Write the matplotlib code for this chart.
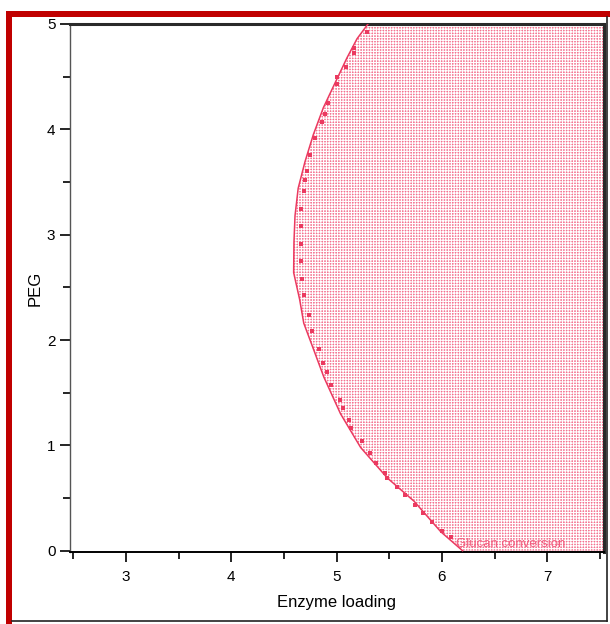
import matplotlib
matplotlib.use("Agg")
import matplotlib.pyplot as plt
from matplotlib.patches import Rectangle
from matplotlib.lines import Line2D

plt.rcParams["font.family"] = ["Liberation Sans", "DejaVu Sans"]
plt.rcParams["hatch.linewidth"] = 0.8

# boundary of the feasible region (Glucan conversion constraint), bottom to top
peg_edge = [0.0, 0.18, 0.47, 0.69, 0.98, 1.30, 1.65, 1.906, 2.16, 2.385,
            2.64, 2.93, 3.18, 3.44, 3.69, 3.95, 4.205, 4.44, 4.68, 4.86, 5.0]
enzyme_edge = [6.197, 5.99, 5.736, 5.483, 5.229, 5.038, 4.879, 4.784, 4.689, 4.650,
               4.593, 4.596, 4.606, 4.636, 4.700, 4.780, 4.875, 4.986, 5.100, 5.195, 5.299]

# dotted contour points just inside the boundary
dot_enzyme = [6.086, 6.006, 5.911, 5.822, 5.743, 5.650, 5.571, 5.483, 5.457, 5.378,
              5.317, 5.238, 5.133, 5.117, 5.060, 5.029, 4.949, 4.905, 4.873, 4.832,
              4.768, 4.736, 4.689, 4.673, 4.663, 4.663, 4.663, 4.663, 4.695, 4.705,
              4.721, 4.752, 4.800, 4.864, 4.895, 4.921, 5.000, 5.000, 5.092, 5.165,
              5.165, 5.286]
dot_peg = [0.134, 0.189, 0.268, 0.357, 0.438, 0.527, 0.603, 0.693, 0.740, 0.830,
           0.926, 1.044, 1.162, 1.245, 1.353, 1.434, 1.577, 1.698, 1.779, 1.916,
           2.081, 2.235, 2.423, 2.577, 2.746, 2.912, 3.081, 3.247, 3.413, 3.515,
           3.608, 3.752, 3.918, 4.071, 4.147, 4.246, 4.428, 4.492, 4.588, 4.725,
           4.773, 4.923]

XLIM = (2.47, 7.535)
YLIM = (-0.012, 5.0)
LINE = "#eb3a60"

fig = plt.figure(figsize=(6.10, 6.24), dpi=100)
ax = fig.add_axes([0.1148, 0.1154, 0.8746, 0.8462])

ax.fill_betweenx(peg_edge, enzyme_edge, XLIM[1], facecolor="#f47390",
                 edgecolor="white", hatch="++++++", linewidth=0, zorder=1)
ax.plot(enzyme_edge, peg_edge, color=LINE, lw=1.1, zorder=3)
ax.plot(dot_enzyme, dot_peg, ls="none", marker="s", ms=2.6, color=LINE,
        mew=0, zorder=3)
ax.text(6.13, 0.01, "Glucan conversion", color="#f25c7e", fontsize=9.5,
        ha="left", va="bottom", zorder=4)

ax.set_xlim(*XLIM)
ax.set_ylim(*YLIM)
ax.set_xticks([3, 4, 5, 6, 7])
ax.set_xticks([2.5, 3.5, 4.5, 5.5, 6.5, 7.5], minor=True)
ax.set_yticks([0, 1, 2, 3, 4, 5])
ax.set_yticks([0.5, 1.5, 2.5, 3.5, 4.5], minor=True)
ax.tick_params(axis="both", which="major", direction="out", labelsize=11,
               width=1.2, length=7)
ax.tick_params(axis="both", which="minor", direction="out", width=1.2, length=5)
ax.tick_params(axis="x", pad=6)

ax.spines["left"].set_color("#555555")
ax.spines["left"].set_linewidth(1.0)
ax.spines["bottom"].set_linewidth(1.4)
for side in ("top", "right"):
    ax.spines[side].set_linewidth(2.2)
    ax.spines[side].set_color("#2a2a2a")

ax.set_xlabel("Enzyme loading", fontsize=12, labelpad=8)
ax.set_ylabel("PEG", fontsize=12, labelpad=3)

# page frame: red bars on top and left, thin dark lines on right and bottom
W, H = 610, 624
fig.patches.append(Rectangle((6 / W, 0), 6 / W, 1 - 11 / H, transform=fig.transFigure,
                             color="#c00000", lw=0))
fig.patches.append(Rectangle((6 / W, 1 - 17 / H), 1 - 6 / W, 6 / H,
                             transform=fig.transFigure, color="#c00000", lw=0))
fig.lines.append(Line2D([607 / W, 607 / W], [1 - 17 / H, 1 - 621 / H],
                        transform=fig.transFigure, color="#222222", lw=1.2))
fig.lines.append(Line2D([12 / W, 607 / W], [1 - 621 / H, 1 - 621 / H],
                        transform=fig.transFigure, color="#222222", lw=1.2))

fig.savefig("out.png", dpi=100, facecolor="white")
